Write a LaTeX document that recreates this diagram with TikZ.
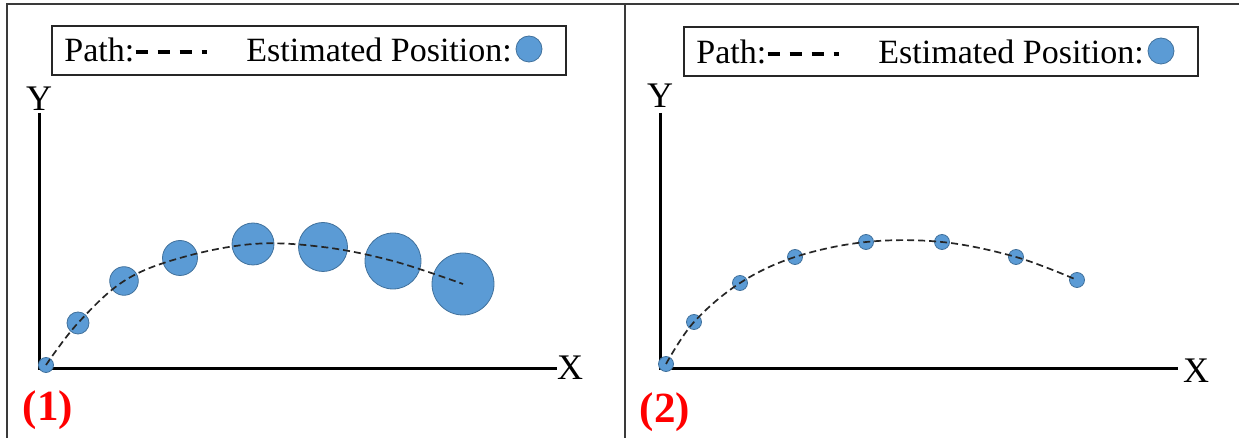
\documentclass[tikz,border=0pt]{standalone}
\usepackage{fontspec}
\setmainfont{Liberation Serif}
\usepackage{xcolor}
\usetikzlibrary{positioning}
\definecolor{estblue}{HTML}{5B9BD5}
\definecolor{estedge}{HTML}{41719C}
\definecolor{framegray}{HTML}{3A3A3A}
\definecolor{pathgray}{HTML}{262626}
\definecolor{tagred}{HTML}{FF0000}

\tikzset{
  estpos/.style={circle, fill=estblue, draw=estedge, line width=0.4pt, inner sep=0pt},
  pathline/.style={pathgray, line width=0.85pt, dash pattern=on 3.5pt off 2pt},
  axisline/.style={black, line width=1.5pt},
  legendbox/.style={rectangle, draw=black!85, line width=1pt, minimum width=257pt, minimum height=24.5pt},
  legendtext/.style={anchor=base west, inner sep=0pt, font=\fontsize{17}{20}\selectfont},
  legenddash/.style={black, line width=1.6pt, dash pattern=on 6pt off 5pt},
  axislabel/.style={inner sep=0pt, font=\fontsize{18}{20}\selectfont},
  paneltag/.style={inner sep=0pt, font=\fontsize{21.5}{24}\selectfont\bfseries\color{tagred}},
}

\begin{document}
\begin{tikzpicture}[x=0.5pt, y=-0.5pt]
\useasboundingbox (0,0) rectangle (1239,438);

% Frame
\draw[framegray, line width=1pt] (7,438) -- (7,4) -- (1239,4);
\draw[framegray, line width=1pt] (625,4) -- (625,438);

% Panel (1): legend
\node[legendbox] (leg1) at (309,50.5) {};
\node[legendtext] (lp1) at (64,62) {Path:};
\draw[legenddash] ([xshift=0.5pt,yshift=5pt]lp1.base east) -- ++(71,0);
\node[legendtext] (le1) at (246,62) {Estimated Position:};
\node[estpos, minimum size=13pt] (lc1) at (529,49) {};

% Panel (1): axes
\draw[axisline] (39,113) -- (39,369) -- (557,369);
\node[axislabel] (y1) at (39,99) {Y};
\node[axislabel] (x1) at (570,368) {X};
\node[paneltag] (tag1) at (48,410) {(1)};

% Panel (1): estimates, growing uncertainty
\foreach \n/\px/\py/\d in {1/46/365/7.5, 2/78/323/11, 3/124/281/14.3, 4/180/258/17.5,
                            5/253/244/21, 6/323/247/24.5, 7/393/261/28, 8/463/284/31}
  \node[estpos, minimum size=\d pt] (c\n) at (\px,\py) {};
\draw[pathline] plot[smooth, tension=0.6] coordinates {(c1.center) (c2.center) (c3.center) (c4.center) (c5.center) (c6.center) (c7.center) (c8.center)};

% Panel (2): legend
\node[legendbox] (leg2) at (940.5,52) {};
\node[legendtext] (lp2) at (696,64) {Path:};
\draw[legenddash] ([xshift=0.5pt,yshift=5pt]lp2.base east) -- ++(71,0);
\node[legendtext] (le2) at (878,64) {Estimated Position:};
\node[estpos, minimum size=13pt] (lc2) at (1161,51) {};

% Panel (2): axes
\draw[axisline] (660,113) -- (660,369) -- (1178,369);
\node[axislabel] (y2) at (660,96) {Y};
\node[axislabel] (x2) at (1196,371) {X};
\node[paneltag] (tag2) at (665,412) {(2)};

% Panel (2): estimates, constant size
\foreach \n/\px/\py in {1/666/364, 2/694/322, 3/740/283, 4/795/257,
                        5/866/242, 6/942/242, 7/1016/257, 8/1077/280}
  \node[estpos, minimum size=7.5pt] (d\n) at (\px,\py) {};
\draw[pathline] plot[smooth, tension=0.6] coordinates {(d1.center) (d2.center) (d3.center) (d4.center) (d5.center) (d6.center) (d7.center) (d8.center)};

\end{tikzpicture}
\end{document}
